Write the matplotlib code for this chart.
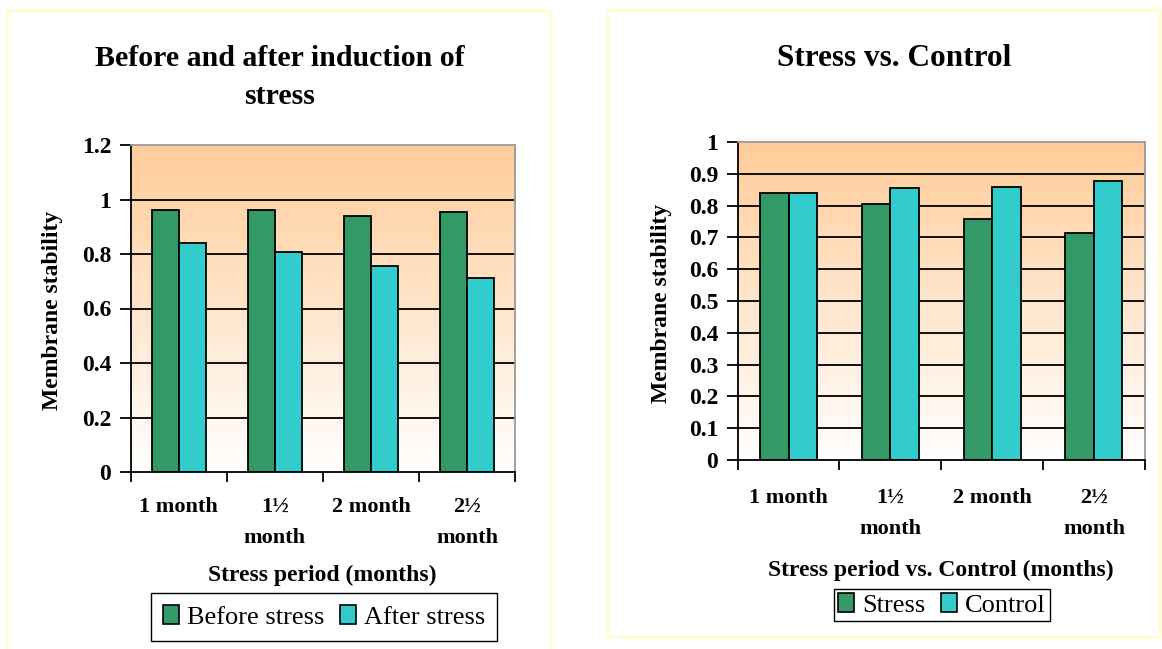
import numpy as np
import matplotlib
matplotlib.use("Agg")
import matplotlib.pyplot as plt
from matplotlib.patches import Rectangle, Patch
from matplotlib.colors import LinearSegmentedColormap
from matplotlib.ticker import FuncFormatter

# ---- data -------------------------------------------------------------
categories = ["1 month", "1½\nmonth", "2 month", "2½\nmonth"]

before_stress = [0.96, 0.96, 0.938, 0.953]
after_stress = [0.841, 0.806, 0.755, 0.711]

stress = [0.841, 0.805, 0.757, 0.713]
control = [0.841, 0.854, 0.859, 0.878]

# ---- style ------------------------------------------------------------
W, H = 1162, 649
SERIF = "Liberation Serif"
GREEN = "#339966"
CYAN = "#33CCCC"
PEACH = "#FFCC99"
FRAME = "#FFFFC4"
BAR_W = 0.28

fig = plt.figure(figsize=(W / 100, H / 100), dpi=100)
fig.patch.set_facecolor("white")


def fx(px):
    return px / W


def fy(py):
    return 1 - py / H


def frame(x0, y0, x1, y1):
    fig.patches.append(Rectangle((fx(x0), fy(y1)), (x1 - x0) / W, (y1 - y0) / H,
                                 transform=fig.transFigure, fill=False,
                                 edgecolor=FRAME, lw=1.6, zorder=0))


fade = LinearSegmentedColormap.from_list("fade", ["#FFFFFF", PEACH])


def bar_panel(box, left_vals, right_vals, ymax, ystep, label_pad):
    x0, y0, x1, y1 = box
    ax = fig.add_axes([fx(x0), fy(y1), (x1 - x0) / W, (y1 - y0) / H])
    n = len(categories)
    x = np.arange(n)
    ax.set_xlim(-0.5, n - 0.5)
    ax.set_ylim(0, ymax)

    ax.imshow(np.linspace(0, 1, 256).reshape(-1, 1), cmap=fade, origin="lower",
              aspect="auto", extent=[-0.5, n - 0.5, 0, ymax], zorder=0,
              interpolation="bilinear")

    yticks = np.round(np.arange(0, ymax + ystep / 2, ystep), 2)
    for v in yticks[1:-1]:
        ax.axhline(v, color="black", lw=1.3, zorder=1)

    ax.bar(x - BAR_W / 2, left_vals, BAR_W, color=GREEN, edgecolor="black",
           lw=1.3, zorder=2)
    ax.bar(x + BAR_W / 2, right_vals, BAR_W, color=CYAN, edgecolor="black",
           lw=1.3, zorder=2)

    ax.set_yticks(yticks)
    ax.yaxis.set_major_formatter(FuncFormatter(lambda v, p: f"{v:g}"))
    ax.set_xticks(np.arange(-0.5, n, 1.0))
    ax.set_xticklabels([])
    ax.set_xticks(x, minor=True)
    ax.set_xticklabels(categories, minor=True, fontfamily=SERIF,
                       fontweight="bold", fontsize=16, linespacing=1.75,
                       va="top")

    ax.tick_params(axis="x", which="major", direction="out", length=7,
                   width=1.3, color="black")
    ax.tick_params(axis="x", which="minor", length=0, pad=label_pad)
    ax.tick_params(axis="y", direction="out", length=8, width=1.3, pad=6,
                   color="black")
    for lab in ax.get_yticklabels():
        lab.set_fontfamily(SERIF)
        lab.set_fontweight("bold")
        lab.set_fontsize(17)

    for side in ("left", "bottom"):
        ax.spines[side].set_color("black")
        ax.spines[side].set_linewidth(1.3)
    for side in ("top", "right"):
        ax.spines[side].set_color("#9A9A9A")
        ax.spines[side].set_linewidth(1.3)
    return ax


def legend(names, cx, cy, pad):
    handles = [Patch(facecolor=GREEN, edgecolor="black", lw=1.2),
               Patch(facecolor=CYAN, edgecolor="black", lw=1.2)]
    fig.legend(handles, names, loc="center", bbox_to_anchor=(fx(cx), fy(cy)),
               bbox_transform=fig.transFigure, ncol=2, frameon=True,
               fancybox=False, edgecolor="black", framealpha=1,
               prop={"family": SERIF, "size": 19}, handlelength=0.6,
               handleheight=0.7, handletextpad=0.3, columnspacing=0.6,
               borderpad=pad, borderaxespad=0)


def bold_text(x, y, s, size, **kw):
    fig.text(fx(x), fy(y), s, fontfamily=SERIF, fontweight="bold",
             fontsize=size, ha="center", va="center", **kw)


# ---- left chart: before and after stress -------------------------------
frame(6.5, 11, 550.5, 664)
bar_panel((130.7, 145, 515, 472), before_stress, after_stress, 1.2, 0.2, 18)
bold_text(280, 59, "Before and after induction of", 21.5)
bold_text(280, 97, "stress", 21.5)
bold_text(53, 310, "Membrane stability", 17, rotation=90)
bold_text(322, 575, "Stress period (months)", 17)
legend(["Before stress", "After stress"], 324, 617, 0.45)

# ---- right chart: stress vs. control -----------------------------------
frame(607.5, 10, 1160, 636.5)
bar_panel((737.6, 142, 1144.8, 460), stress, control, 1.0, 0.1, 20)
bold_text(894, 59, "Stress vs. Control", 22.5)
bold_text(661, 303, "Membrane stability", 17, rotation=90)
bold_text(941, 570, "Stress period vs. Control (months)", 17)
legend(["Stress", "Control"], 942, 605, 0.15)

fig.savefig("out.png", dpi=100)
